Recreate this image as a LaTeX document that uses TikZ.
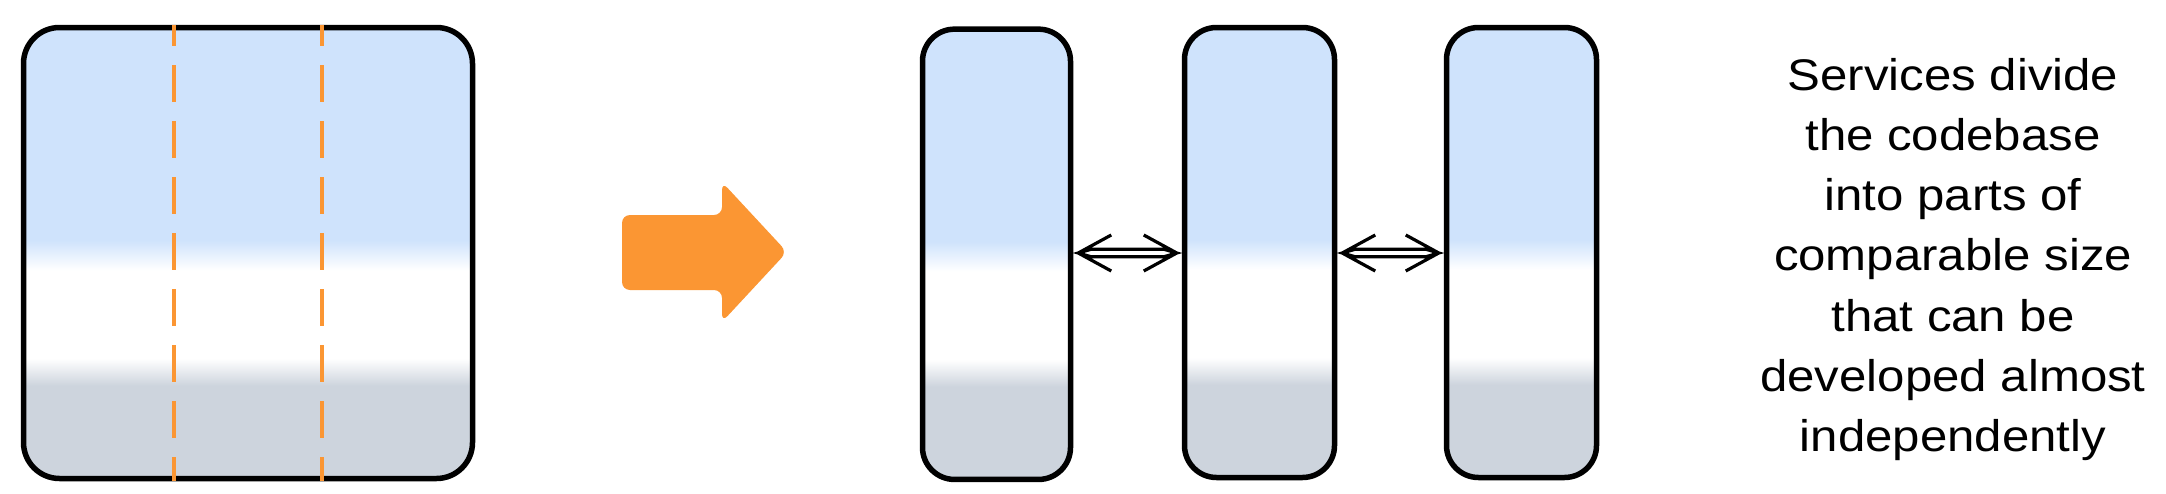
\documentclass[tikz,border=0pt]{standalone}
\usepackage{fontspec}
\setmainfont{Liberation Sans}
\usepackage{graphicx}
\definecolor{bl}{RGB}{207,227,252}
\definecolor{gr}{RGB}{205,212,221}
\definecolor{orng}{RGB}{251,150,51}
\pgfdeclareverticalshading{boxshade}{100bp}{color(0bp)=(gr); color(35.3bp)=(gr); color(38.3bp)=(white); color(48.1bp)=(white); color(51.4bp)=(bl); color(100bp)=(bl)}
\begin{document}
\begin{tikzpicture}[x=1pt,y=-1pt,
  svcbox/.style={draw=black, line width=5.5pt, rounded corners=32pt, shading=boxshade,
    minimum width=150pt, minimum height=450pt, inner sep=0pt},
  monobox/.style={svcbox, rounded corners=36pt, minimum width=449pt, minimum height=451pt},
  divider/.style={draw=orng, line width=3.2pt, dash pattern=on 37pt off 19pt, dash phase=16pt},
  bigarrow/.style={fill=orng, rounded corners=8pt},
  biarrow/.style={draw=black, line width=3.2pt, line join=miter, to path={
    ([shift={(38,-18)}]\tikztostart) -- ([shift={(5,0)}]\tikztostart) -- ([shift={(38,18)}]\tikztostart)
    ([shift={(-38,-18)}]\tikztotarget) -- ([shift={(-5,0)}]\tikztotarget) -- ([shift={(-38,18)}]\tikztotarget)
    ([shift={(5,0)}]\tikztostart) -- ([shift={(18,-3.8)}]\tikztostart) -- ([shift={(-18,-3.8)}]\tikztotarget)
      -- ([shift={(-5,0)}]\tikztotarget) -- ([shift={(-18,3.8)}]\tikztotarget) -- ([shift={(18,3.8)}]\tikztostart) -- cycle}},
  caption/.style={anchor=base, inner sep=0pt}
]
\useasboundingbox (0,0) rectangle (2166,493);

% monolith
\node[monobox] (mono) at (248,253) {};
\draw[divider] (174,25) -- (174,481);
\draw[divider] (322,25) -- (322,481);

% big arrow
\fill[bigarrow] (622,215) -- (722,215) -- (722,182) -- (787,252) -- (722,322) -- (722,290) -- (622,290) -- cycle;

% services
\node[svcbox, minimum width=148pt, minimum height=450.3pt] (s1) at (996.5,254.3) {};
\node[svcbox] (s2) at (1259.5,252.5) {};
\node[svcbox] (s3) at (1521.5,252.5) {};

\draw[biarrow] (s1.east |- 0,253) to (s2.west |- 0,253);
\draw[biarrow] (s2.east |- 0,253) to (s3.west |- 0,253);

% caption
\node[caption] (txt) at (1953,90) {\scalebox{1.11}[1]{\fontsize{44.3pt}{60.3pt}\selectfont\tabcolsep=0pt\begin{tabular}[t]{c}Services divide\\ the codebase\\ into parts of\\ comparable size\\ that can be\\ developed almost\\ independently\end{tabular}}};
\end{tikzpicture}
\end{document}
